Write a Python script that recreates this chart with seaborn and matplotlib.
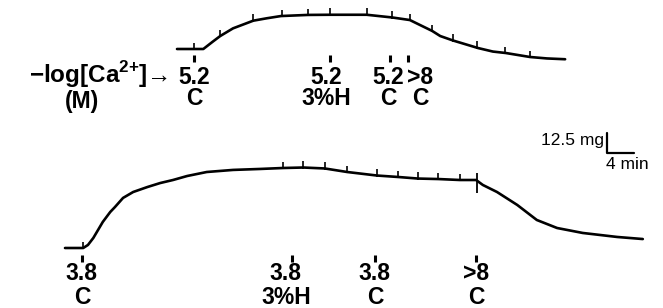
import numpy as np
import pandas as pd
import matplotlib
matplotlib.use("Agg")
import matplotlib.pyplot as plt
import seaborn as sns

sns.set_theme(style="white")
plt.rcParams["font.family"] = ["Liberation Sans", "DejaVu Sans"]
plt.rcParams["mathtext.fontset"] = "custom"
plt.rcParams["mathtext.rm"] = "Liberation Sans"
plt.rcParams["mathtext.bf"] = "Liberation Sans:bold"

# top record: time since start (min), tension change (mg)
top_time = [0, 3.9, 5.3, 6.4, 8.3, 11.3, 13.3, 15.4, 19.4, 22.7, 28.1, 31.9,
            34.5, 36.0, 37.8, 39.0, 40.9, 44.6, 46.8, 48.7, 52.3, 54.8, 57.5]
top_tension = [0, 0, 4.6, 8.1, 12.9, 17.7, 19.2, 20.6, 21.3, 21.4, 21.4, 19.7,
               18.1, 15.0, 11.3, 8.1, 5.3, 0.6, -1.6, -2.5, -5.0, -5.9, -6.4]
top_marks = [2.5, 6.4, 11.3, 15.6, 19.4, 22.7, 28.1, 31.9, 34.5, 37.8, 40.9,
             44.4, 48.6, 52.3]

# bottom record
bot_time = [0, 2.7, 3.4, 4.2, 4.9, 5.6, 6.7, 7.4, 8.6, 10.1, 12.2, 14.1, 16.0,
            18.1, 21.0, 24.9, 28.9, 32.3, 35.3, 38.5, 41.8, 46.2, 49.3, 52.3,
            55.3, 58.5, 60.9, 61.9, 64.0, 67.0, 69.9, 72.9, 76.7, 81.8, 85.6]
bot_tension = [0, 0, 1.9, 6.3, 11.3, 16.3, 22.5, 25.6, 31.3, 35.0, 38.1, 40.6,
               42.5, 45.0, 47.5, 48.8, 49.4, 50.0, 50.3, 49.7, 47.5, 45.3, 44.4,
               43.4, 43.1, 42.5, 42.5, 39.4, 35.0, 26.9, 17.5, 12.5, 9.4, 6.9, 5.6]
bot_marks = [2.7, 32.3, 35.3, 38.5, 41.8, 46.2, 49.3, 52.3, 55.3, 58.5]
bot_big_mark = 61.0

# solution changes: time (min), -log[Ca2+], solution
top_change_t = [2.5, 22.7, 31.6, 34.2]
top_pca = ["5.2", "5.2", "5.2", ">8"]
top_soln = ["C", "3%H", "C", "C"]
bot_change_t = [2.5, 33.6, 45.9, 60.9]
bot_pca = ["3.8", "3.8", "3.8", ">8"]
bot_soln = ["C", "3%H", "C", "C"]

scale_mg = 12.5
scale_min = 4

# layout (pixels of the 663x308 image)
W, H = 663, 308
PX_MIN, PX_MG = 6.75, 1.6


def dx(px):
    return px / PX_MIN


def yy(px):
    return (H - px) / PX_MG


fig = plt.figure(figsize=(W / 100, H / 100), dpi=100)
ax = fig.add_axes([0, 0, 1, 1])
ax.set_xlim(0, dx(W))
ax.set_ylim(0, yy(0))
ax.axis("off")

txt = dict(fontsize=16.5, fontweight="bold", color="black")


def draw_record(time, tension, marks, change_t, pca, soln, origin, rows, text_dx):
    ox, oy = dx(origin[0]), yy(origin[1])
    df = pd.DataFrame({"t": np.array(time) + ox, "mg": np.array(tension) + oy})
    sns.lineplot(data=df, x="t", y="mg", sort=False, estimator=None,
                 color="black", lw=1.9, ax=ax)
    m = np.array(marks)
    ym = np.interp(m, time, tension) + oy
    ax.vlines(m + ox, ym - 0.8, ym + 4.0, color="black", lw=1.2)
    mk_top, mk_bot, num_y, sol_y = rows
    for t, a, b, d in zip(change_t, pca, soln, text_dx):
        ax.vlines(t + ox, yy(mk_bot), yy(mk_top), color="black", lw=2.2)
        ax.text(t + ox + dx(d), yy(num_y), a, ha="center", va="baseline", **txt)
        ax.text(t + ox + dx(d), yy(sol_y), b, ha="center", va="baseline", **txt)
    return ox, oy


draw_record(top_time, top_tension, top_marks, top_change_t, top_pca, top_soln,
            (177, 49), (55, 62, 84, 105), [0, -4, -2, 12])
ox, oy = draw_record(bot_time, bot_tension, bot_marks, bot_change_t, bot_pca,
                     bot_soln, (65, 248), (255, 262, 280, 304), [0, -6, 0, 0])

# large mark at the switch to relaxing solution
yb = np.interp(bot_big_mark, bot_time, bot_tension) + oy
ax.vlines(bot_big_mark + ox, yb - 8.1, yb + 4.4, color="black", lw=1.3)

ax.text(dx(168), yy(83), "\u2212log[Ca$^{\\mathbf{2{+}}}$]\u2192", ha="right",
        va="baseline", fontsize=17.5, fontweight="bold", color="black")
ax.text(dx(82), yy(108), "(M)", ha="center", va="baseline", **txt)

# scale bar
cx, cy = dx(607), yy(153)
ax.plot([cx, cx, cx + scale_min], [cy + scale_mg, cy, cy], color="black", lw=1.6)
ax.text(cx - dx(3), yy(145), f"{scale_mg} mg", ha="right",
        va="baseline", fontsize=12.5, color="black")
ax.text(cx - dx(1), yy(169), f"{scale_min} min", ha="left",
        va="baseline", fontsize=12.5, color="black")

fig.savefig("out.png", dpi=100)
